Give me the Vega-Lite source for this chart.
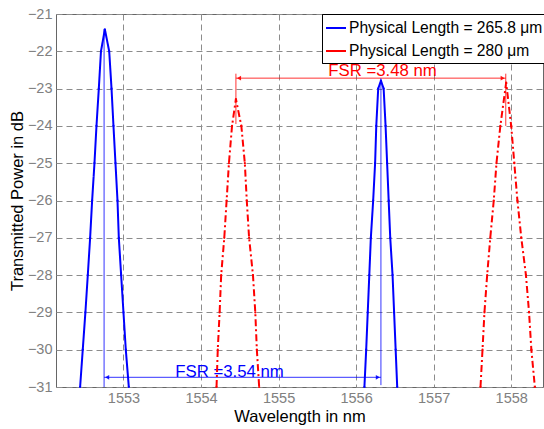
{
  "$schema": "https://vega.github.io/schema/vega-lite/v6.json",
  "width": 487,
  "height": 373,
  "autosize": {"type": "none"},
  "padding": {"left": 56, "top": 14, "right": 1, "bottom": 42},
  "background": "white",
  "config": {
    "font": "Liberation Sans",
    "view": {"stroke": "#666666", "strokeWidth": 1},
    "axis": {
      "grid": true,
      "gridColor": "#8c8c8c",
      "gridDash": [6, 4],
      "gridWidth": 1,
      "domain": false,
      "ticks": false,
      "labelColor": "#808080",
      "labelFontSize": 14.5,
      "labelFont": "Liberation Sans",
      "titleColor": "#000000",
      "titleFont": "Liberation Sans",
      "titleFontSize": 16.5,
      "titleFontWeight": "normal"
    }
  },
  "datasets": {
    "curves": [
      {"series": "Physical Length = 265.8 μm", "peak": "b1", "x": 1552.441, "y": -31},
      {"series": "Physical Length = 265.8 μm", "peak": "b1", "x": 1552.475, "y": -30},
      {"series": "Physical Length = 265.8 μm", "peak": "b1", "x": 1552.509, "y": -29},
      {"series": "Physical Length = 265.8 μm", "peak": "b1", "x": 1552.540, "y": -28},
      {"series": "Physical Length = 265.8 μm", "peak": "b1", "x": 1552.570, "y": -27},
      {"series": "Physical Length = 265.8 μm", "peak": "b1", "x": 1552.596, "y": -26},
      {"series": "Physical Length = 265.8 μm", "peak": "b1", "x": 1552.626, "y": -25},
      {"series": "Physical Length = 265.8 μm", "peak": "b1", "x": 1552.652, "y": -24},
      {"series": "Physical Length = 265.8 μm", "peak": "b1", "x": 1552.682, "y": -23},
      {"series": "Physical Length = 265.8 μm", "peak": "b1", "x": 1552.710, "y": -22},
      {"series": "Physical Length = 265.8 μm", "peak": "b1", "x": 1552.760, "y": -21.41},
      {"series": "Physical Length = 265.8 μm", "peak": "b1", "x": 1552.816, "y": -22},
      {"series": "Physical Length = 265.8 μm", "peak": "b1", "x": 1552.846, "y": -23},
      {"series": "Physical Length = 265.8 μm", "peak": "b1", "x": 1552.871, "y": -24},
      {"series": "Physical Length = 265.8 μm", "peak": "b1", "x": 1552.897, "y": -25},
      {"series": "Physical Length = 265.8 μm", "peak": "b1", "x": 1552.923, "y": -26},
      {"series": "Physical Length = 265.8 μm", "peak": "b1", "x": 1552.940, "y": -27},
      {"series": "Physical Length = 265.8 μm", "peak": "b1", "x": 1552.970, "y": -28},
      {"series": "Physical Length = 265.8 μm", "peak": "b1", "x": 1553.000, "y": -29},
      {"series": "Physical Length = 265.8 μm", "peak": "b1", "x": 1553.030, "y": -30},
      {"series": "Physical Length = 265.8 μm", "peak": "b1", "x": 1553.069, "y": -31},

      {"series": "Physical Length = 265.8 μm", "peak": "b2", "x": 1556.107, "y": -31},
      {"series": "Physical Length = 265.8 μm", "peak": "b2", "x": 1556.130, "y": -30},
      {"series": "Physical Length = 265.8 μm", "peak": "b2", "x": 1556.150, "y": -29},
      {"series": "Physical Length = 265.8 μm", "peak": "b2", "x": 1556.170, "y": -28},
      {"series": "Physical Length = 265.8 μm", "peak": "b2", "x": 1556.190, "y": -27},
      {"series": "Physical Length = 265.8 μm", "peak": "b2", "x": 1556.220, "y": -26},
      {"series": "Physical Length = 265.8 μm", "peak": "b2", "x": 1556.245, "y": -25},
      {"series": "Physical Length = 265.8 μm", "peak": "b2", "x": 1556.260, "y": -24},
      {"series": "Physical Length = 265.8 μm", "peak": "b2", "x": 1556.285, "y": -23},
      {"series": "Physical Length = 265.8 μm", "peak": "b2", "x": 1556.320, "y": -22.79},
      {"series": "Physical Length = 265.8 μm", "peak": "b2", "x": 1556.355, "y": -23},
      {"series": "Physical Length = 265.8 μm", "peak": "b2", "x": 1556.380, "y": -24},
      {"series": "Physical Length = 265.8 μm", "peak": "b2", "x": 1556.400, "y": -25},
      {"series": "Physical Length = 265.8 μm", "peak": "b2", "x": 1556.420, "y": -26},
      {"series": "Physical Length = 265.8 μm", "peak": "b2", "x": 1556.440, "y": -27},
      {"series": "Physical Length = 265.8 μm", "peak": "b2", "x": 1556.470, "y": -28},
      {"series": "Physical Length = 265.8 μm", "peak": "b2", "x": 1556.490, "y": -29},
      {"series": "Physical Length = 265.8 μm", "peak": "b2", "x": 1556.510, "y": -30},
      {"series": "Physical Length = 265.8 μm", "peak": "b2", "x": 1556.530, "y": -31},

      {"series": "Physical Length = 280 μm", "peak": "r1", "x": 1554.200, "y": -31},
      {"series": "Physical Length = 280 μm", "peak": "r1", "x": 1554.216, "y": -30},
      {"series": "Physical Length = 280 μm", "peak": "r1", "x": 1554.240, "y": -29},
      {"series": "Physical Length = 280 μm", "peak": "r1", "x": 1554.260, "y": -28},
      {"series": "Physical Length = 280 μm", "peak": "r1", "x": 1554.300, "y": -27},
      {"series": "Physical Length = 280 μm", "peak": "r1", "x": 1554.330, "y": -26},
      {"series": "Physical Length = 280 μm", "peak": "r1", "x": 1554.360, "y": -25},
      {"series": "Physical Length = 280 μm", "peak": "r1", "x": 1554.400, "y": -24},
      {"series": "Physical Length = 280 μm", "peak": "r1", "x": 1554.450, "y": -23.28},
      {"series": "Physical Length = 280 μm", "peak": "r1", "x": 1554.520, "y": -24},
      {"series": "Physical Length = 280 μm", "peak": "r1", "x": 1554.565, "y": -25},
      {"series": "Physical Length = 280 μm", "peak": "r1", "x": 1554.590, "y": -26},
      {"series": "Physical Length = 280 μm", "peak": "r1", "x": 1554.620, "y": -27},
      {"series": "Physical Length = 280 μm", "peak": "r1", "x": 1554.670, "y": -28},
      {"series": "Physical Length = 280 μm", "peak": "r1", "x": 1554.700, "y": -29},
      {"series": "Physical Length = 280 μm", "peak": "r1", "x": 1554.720, "y": -30},
      {"series": "Physical Length = 280 μm", "peak": "r1", "x": 1554.750, "y": -31},

      {"series": "Physical Length = 280 μm", "peak": "r2", "x": 1557.604, "y": -31},
      {"series": "Physical Length = 280 μm", "peak": "r2", "x": 1557.630, "y": -30},
      {"series": "Physical Length = 280 μm", "peak": "r2", "x": 1557.655, "y": -29},
      {"series": "Physical Length = 280 μm", "peak": "r2", "x": 1557.690, "y": -28},
      {"series": "Physical Length = 280 μm", "peak": "r2", "x": 1557.730, "y": -27},
      {"series": "Physical Length = 280 μm", "peak": "r2", "x": 1557.775, "y": -26},
      {"series": "Physical Length = 280 μm", "peak": "r2", "x": 1557.810, "y": -25},
      {"series": "Physical Length = 280 μm", "peak": "r2", "x": 1557.860, "y": -24},
      {"series": "Physical Length = 280 μm", "peak": "r2", "x": 1557.935, "y": -22.84},
      {"series": "Physical Length = 280 μm", "peak": "r2", "x": 1558.000, "y": -24},
      {"series": "Physical Length = 280 μm", "peak": "r2", "x": 1558.040, "y": -25},
      {"series": "Physical Length = 280 μm", "peak": "r2", "x": 1558.080, "y": -26},
      {"series": "Physical Length = 280 μm", "peak": "r2", "x": 1558.130, "y": -27},
      {"series": "Physical Length = 280 μm", "peak": "r2", "x": 1558.190, "y": -28},
      {"series": "Physical Length = 280 μm", "peak": "r2", "x": 1558.230, "y": -29},
      {"series": "Physical Length = 280 μm", "peak": "r2", "x": 1558.260, "y": -30},
      {"series": "Physical Length = 280 μm", "peak": "r2", "x": 1558.305, "y": -31}
    ],
    "segments": [
      {"series": "Physical Length = 265.8 μm", "x": 1552.75, "y": -21.41, "x2": 1552.75, "y2": -31},
      {"series": "Physical Length = 265.8 μm", "x": 1556.32, "y": -22.79, "x2": 1556.32, "y2": -30.95},
      {"series": "Physical Length = 265.8 μm", "x": 1552.75, "y": -30.74, "x2": 1556.32, "y2": -30.74},
      {"series": "Physical Length = 280 μm", "x": 1554.45, "y": -22.6, "x2": 1554.45, "y2": -23.95},
      {"series": "Physical Length = 280 μm", "x": 1557.93, "y": -22.6, "x2": 1557.93, "y2": -24.0},
      {"series": "Physical Length = 280 μm", "x": 1554.45, "y": -22.72, "x2": 1557.93, "y2": -22.72}
    ],
    "heads": [
      {"series": "Physical Length = 265.8 μm", "dir": "left", "x": 1552.79, "y": -30.74},
      {"series": "Physical Length = 265.8 μm", "dir": "right", "x": 1556.28, "y": -30.74},
      {"series": "Physical Length = 280 μm", "dir": "left", "x": 1554.49, "y": -22.72},
      {"series": "Physical Length = 280 μm", "dir": "right", "x": 1557.89, "y": -22.72}
    ],
    "labels": [
      {"series": "Physical Length = 265.8 μm", "label": "FSR =3.54 nm", "x": 1553.667, "y": -30.72},
      {"series": "Physical Length = 280 μm", "label": "FSR =3.48 nm", "x": 1555.64, "y": -22.66}
    ]
  },
  "resolve": {"scale": {"color": "independent", "shape": "independent"}, "legend": {"color": "independent"}},
  "encoding": {
    "x": {"field": "x", "type": "quantitative",
      "scale": {"domain": [1552.13, 1558.41], "nice": false, "zero": false},
      "axis": {"values": [1553, 1554, 1555, 1556, 1557, 1558], "format": "d", "labelPadding": 4, "title": "Wavelength in nm", "titlePadding": 4}},
    "y": {"field": "y", "type": "quantitative",
      "scale": {"domain": [-31, -21], "nice": false, "zero": false},
      "axis": {"values": [-31, -30, -29, -28, -27, -26, -25, -24, -23, -22, -21], "labelPadding": 4, "title": "Transmitted Power in dB", "titlePadding": 2}}
  },
  "layer": [
    {
      "data": {"name": "labels"},
      "mark": {"type": "text", "align": "left", "baseline": "alphabetic", "fontSize": 16.8, "font": "Liberation Sans"},
      "encoding": {
        "text": {"field": "label"},
        "color": {"field": "series", "type": "nominal",
          "scale": {"domain": ["Physical Length = 265.8 μm", "Physical Length = 280 μm"], "range": ["#0000ff", "#ff0000"]},
          "legend": null}
      }
    },
    {
      "data": {"name": "segments"},
      "mark": {"type": "rule", "strokeWidth": 1, "opacity": 0.8},
      "encoding": {
        "x2": {"field": "x2"},
        "y2": {"field": "y2"},
        "color": {"field": "series", "type": "nominal",
          "scale": {"domain": ["Physical Length = 265.8 μm", "Physical Length = 280 μm"], "range": ["#0000ff", "#ff0000"]},
          "legend": null}
      }
    },
    {
      "data": {"name": "heads"},
      "mark": {"type": "point", "filled": true, "size": 22, "opacity": 0.9},
      "encoding": {
        "shape": {"field": "dir", "type": "nominal", "scale": {"domain": ["left", "right"], "range": ["triangle-left", "triangle-right"]}, "legend": null},
        "color": {"field": "series", "type": "nominal",
          "scale": {"domain": ["Physical Length = 265.8 μm", "Physical Length = 280 μm"], "range": ["#0000ff", "#ff0000"]},
          "legend": null}
      }
    },
    {
      "data": {"name": "curves"},
      "mark": {"type": "line", "strokeWidth": 2, "point": {"filled": true, "size": 5}},
      "encoding": {
        "detail": {"field": "peak"},
        "color": {"field": "series", "type": "nominal",
          "scale": {"domain": ["Physical Length = 265.8 μm", "Physical Length = 280 μm"], "range": ["#0000ff", "#ff0000"]},
          "legend": {
            "title": null, "orient": "none", "legendX": 266, "legendY": 0,
            "fillColor": "white", "strokeColor": "#000000", "padding": 3,
            "labelFontSize": 15.6, "labelColor": "#000000", "labelFont": "Liberation Sans",
            "symbolType": "stroke", "symbolSize": 400, "symbolStrokeWidth": 2,
            "labelOffset": 2, "rowPadding": 3, "labelLimit": 300
          }},
        "strokeDash": {"field": "series", "type": "nominal",
          "scale": {"domain": ["Physical Length = 265.8 μm", "Physical Length = 280 μm"], "range": [[1, 0], [7, 3, 2, 3]]},
          "legend": {
            "title": null, "orient": "none", "legendX": 266, "legendY": 0,
            "fillColor": "white", "strokeColor": "#000000", "padding": 3,
            "labelFontSize": 15.6, "labelColor": "#000000", "labelFont": "Liberation Sans",
            "symbolType": "stroke", "symbolSize": 400, "symbolStrokeWidth": 2,
            "labelOffset": 2, "rowPadding": 3, "labelLimit": 300
          }}
      }
    }
  ]
}
